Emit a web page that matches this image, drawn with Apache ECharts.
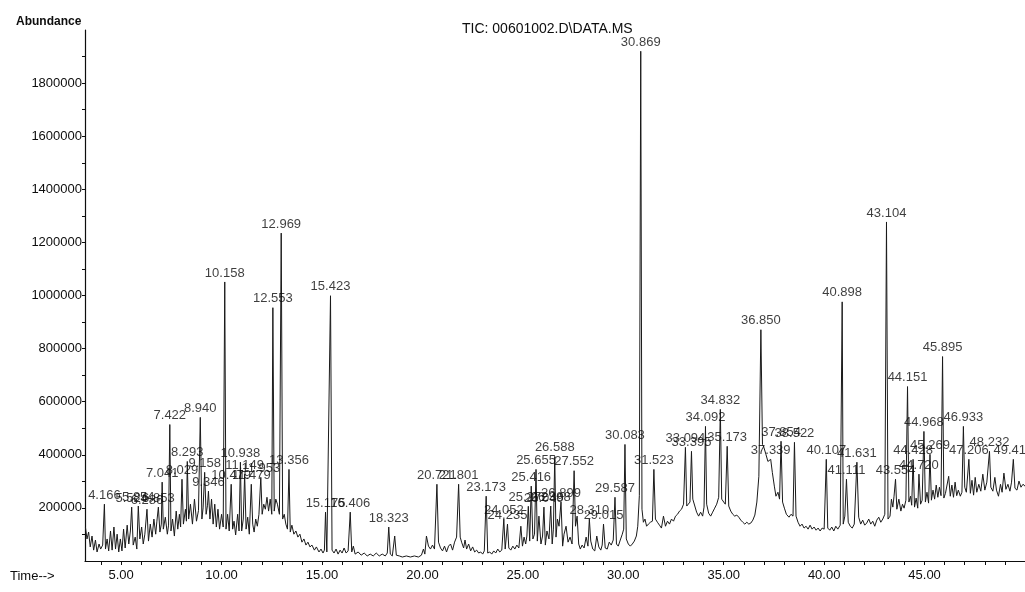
<!DOCTYPE html>
<html>
<head>
<meta charset="utf-8">
<script src="https://cdn.jsdelivr.net/npm/echarts@6/dist/echarts.min.js"></script>
<style>
  * { margin: 0; padding: 0; }
  body { background: #fff; }
  #chart { width: 1025px; height: 592px; }
</style>
</head>
<body>
<div id="chart"></div>
<script>
// TIC trace: [retention time (min), abundance]
const trace = [
  [3.22,128000],[3.3,83000],[3.38,109000],[3.46,53000],[3.55,94000],[3.63,41000],[3.72,79000],[3.8,34000],
  [3.9,64000],[3.98,45000],[4.08,60000],[4.166,214000],[4.22,45000],[4.3,83000],[4.38,38000],[4.47,113000],
  [4.55,41000],[4.64,128000],[4.72,45000],[4.8,101000],[4.88,34000],[4.96,83000],[5.04,38000],[5.12,120000],
  [5.2,49000],[5.3,135000],[5.38,64000],[5.46,113000],[5.524,203000],[5.6,60000],[5.7,90000],[5.78,45000],
  [5.854,207000],[5.93,83000],[6.02,128000],[6.1,64000],[6.18,101000],[6.286,195000],[6.36,75000],[6.45,139000],
  [6.54,90000],[6.63,158000],[6.72,101000],[6.78,150000],[6.853,203000],[6.93,109000],[7.0,139000],[7.041,297000],
  [7.1,120000],[7.2,165000],[7.3,101000],[7.36,135000],[7.422,514000],[7.48,113000],[7.56,158000],[7.65,94000],
  [7.74,188000],[7.82,120000],[7.9,176000],[7.96,128000],[8.029,308000],[8.1,139000],[8.2,195000],[8.25,150000],
  [8.293,375000],[8.36,158000],[8.45,214000],[8.55,139000],[8.65,233000],[8.75,150000],[8.85,190000],[8.94,541000],
  [9.02,158000],[9.08,200000],[9.158,334000],[9.23,176000],[9.3,210000],[9.346,263000],[9.42,158000],[9.5,233000],
  [9.58,139000],[9.66,214000],[9.74,128000],[9.82,195000],[9.9,120000],[10.0,176000],[10.08,128000],[10.158,1051000],
  [10.22,120000],[10.3,176000],[10.38,113000],[10.479,289000],[10.55,120000],[10.62,150000],[10.7,98000],[10.8,176000],
  [10.87,113000],[10.938,372000],[11.0,113000],[11.08,158000],[11.149,327000],[11.22,120000],[11.3,165000],[11.38,101000],
  [11.479,289000],[11.55,139000],[11.62,109000],[11.7,158000],[11.78,131000],[11.86,176000],[11.953,315000],[12.02,176000],
  [12.1,214000],[12.18,195000],[12.26,240000],[12.34,188000],[12.42,233000],[12.5,176000],[12.553,954000],[12.62,188000],
  [12.7,233000],[12.78,214000],[12.88,176000],[12.969,1235000],[13.04,158000],[13.12,176000],[13.2,139000],[13.28,120000],
  [13.356,345000],[13.42,109000],[13.5,135000],[13.6,101000],[13.7,113000],[13.8,90000],[13.9,101000],[14.0,71000],
  [14.1,83000],[14.2,60000],[14.3,71000],[14.4,53000],[14.5,60000],[14.62,41000],[14.72,53000],[14.85,34000],
  [14.95,45000],[15.05,30000],[15.12,41000],[15.175,184000],[15.24,34000],[15.32,38000],[15.423,999000],[15.5,41000],
  [15.6,30000],[15.7,45000],[15.8,26000],[15.9,41000],[16.0,30000],[16.1,49000],[16.2,30000],[16.3,38000],
  [16.406,184000],[16.48,34000],[16.56,56000],[16.65,26000],[16.8,34000],[16.95,22000],[17.1,30000],[17.25,19000],
  [17.4,26000],[17.55,19000],[17.7,30000],[17.85,19000],[18.0,26000],[18.15,19000],[18.25,30000],[18.323,128000],
  [18.4,26000],[18.5,19000],[18.62,94000],[18.7,22000],[18.85,19000],[19.0,15000],[19.2,19000],[19.4,15000],
  [19.6,19000],[19.8,15000],[19.95,22000],[20.05,45000],[20.12,26000],[20.2,94000],[20.3,56000],[20.4,45000],
  [20.5,60000],[20.6,45000],[20.721,289000],[20.8,71000],[20.9,49000],[21.0,38000],[21.1,56000],[21.2,34000],
  [21.3,56000],[21.4,64000],[21.5,41000],[21.6,71000],[21.7,90000],[21.801,289000],[21.88,90000],[21.95,71000],
  [22.05,49000],[22.12,79000],[22.2,45000],[22.3,64000],[22.4,38000],[22.5,53000],[22.6,34000],[22.7,41000],
  [22.8,30000],[22.9,34000],[23.0,26000],[23.08,38000],[23.173,244000],[23.25,30000],[23.35,34000],[23.45,26000],
  [23.55,38000],[23.65,30000],[23.75,45000],[23.85,34000],[23.95,41000],[24.052,158000],[24.12,45000],[24.18,38000],
  [24.235,139000],[24.3,49000],[24.4,41000],[24.5,56000],[24.6,45000],[24.7,60000],[24.8,49000],[24.9,131000],
  [24.98,56000],[25.06,90000],[25.14,64000],[25.2,94000],[25.272,206000],[25.34,75000],[25.416,282000],[25.5,83000],
  [25.58,101000],[25.655,345000],[25.72,75000],[25.8,169000],[25.9,64000],[25.98,94000],[26.049,203000],[26.12,60000],
  [26.2,113000],[26.3,83000],[26.388,207000],[26.46,64000],[26.52,120000],[26.588,394000],[26.65,90000],[26.72,158000],
  [26.8,131000],[26.899,222000],[26.98,56000],[27.05,101000],[27.15,131000],[27.25,71000],[27.35,90000],[27.45,64000],
  [27.552,340000],[27.62,131000],[27.7,169000],[27.78,64000],[27.86,45000],[27.95,60000],[28.05,49000],[28.15,90000],
  [28.24,56000],[28.31,158000],[28.38,75000],[28.48,45000],[28.58,38000],[28.68,94000],[28.78,53000],[28.88,41000],
  [28.95,60000],[29.015,139000],[29.1,49000],[29.2,45000],[29.3,71000],[29.4,60000],[29.5,79000],[29.587,240000],
  [29.66,64000],[29.75,56000],[29.85,79000],[29.95,101000],[30.02,120000],[30.083,439000],[30.15,83000],[30.25,64000],
  [30.35,56000],[30.45,64000],[30.55,75000],[30.65,94000],[30.72,131000],[30.8,246000],[30.869,1920000],[30.93,195000],
  [31.0,146000],[31.08,158000],[31.16,131000],[31.25,139000],[31.35,146000],[31.45,150000],[31.523,345000],[31.6,158000],
  [31.7,146000],[31.8,135000],[31.9,124000],[32.0,169000],[32.1,131000],[32.2,150000],[32.3,139000],[32.4,158000],
  [32.5,150000],[32.6,169000],[32.7,176000],[32.8,188000],[32.9,195000],[33.0,214000],[33.094,428000],[33.16,207000],
  [33.25,214000],[33.32,222000],[33.395,413000],[33.46,233000],[33.55,229000],[33.65,184000],[33.75,169000],[33.85,184000],
  [33.95,169000],[34.02,203000],[34.092,507000],[34.15,214000],[34.25,180000],[34.35,169000],[34.45,184000],[34.55,199000],
  [34.65,214000],[34.75,240000],[34.832,571000],[34.9,233000],[35.0,222000],[35.08,214000],[35.173,432000],[35.25,207000],
  [35.35,188000],[35.45,176000],[35.55,169000],[35.65,173000],[35.75,165000],[35.85,154000],[35.95,146000],[36.05,139000],
  [36.15,146000],[36.25,139000],[36.35,143000],[36.45,154000],[36.55,173000],[36.65,222000],[36.75,319000],[36.85,871000],
  [36.93,439000],[37.0,428000],[37.1,402000],[37.2,375000],[37.339,383000],[37.42,334000],[37.52,282000],[37.6,244000],
  [37.7,259000],[37.78,233000],[37.854,451000],[37.93,222000],[38.02,199000],[38.12,176000],[38.25,165000],[38.35,176000],
  [38.45,169000],[38.522,447000],[38.6,169000],[38.7,146000],[38.8,131000],[38.9,139000],[39.0,124000],[39.1,131000],
  [39.2,120000],[39.3,135000],[39.4,120000],[39.5,128000],[39.6,116000],[39.7,124000],[39.8,113000],[39.9,124000],
  [40.0,120000],[40.107,383000],[40.18,124000],[40.28,116000],[40.38,128000],[40.48,113000],[40.58,131000],[40.68,120000],
  [40.8,135000],[40.898,976000],[40.95,139000],[41.03,169000],[41.111,308000],[41.2,146000],[41.3,131000],[41.4,124000],
  [41.5,139000],[41.631,372000],[41.72,165000],[41.82,139000],[41.92,154000],[42.02,135000],[42.12,143000],[42.22,158000],
  [42.32,139000],[42.42,150000],[42.52,131000],[42.62,154000],[42.72,165000],[42.82,146000],[42.92,158000],[43.02,176000],
  [43.104,1277000],[43.18,158000],[43.28,169000],[43.35,233000],[43.42,203000],[43.48,244000],[43.554,308000],[43.62,195000],
  [43.72,233000],[43.82,188000],[43.9,214000],[43.98,199000],[44.07,229000],[44.151,657000],[44.22,222000],[44.3,244000],
  [44.36,210000],[44.428,383000],[44.5,203000],[44.58,237000],[44.66,199000],[44.72,327000],[44.8,214000],[44.88,229000],
  [44.968,488000],[45.04,222000],[45.12,259000],[45.2,218000],[45.269,402000],[45.34,229000],[45.42,267000],[45.5,233000],
  [45.58,286000],[45.66,240000],[45.74,278000],[45.82,246000],[45.895,770000],[45.96,237000],[46.04,255000],[46.12,248000],
  [46.2,319000],[46.28,244000],[46.36,286000],[46.44,240000],[46.52,297000],[46.6,246000],[46.68,267000],[46.78,244000],
  [46.86,259000],[46.933,507000],[47.0,278000],[47.08,259000],[47.206,383000],[47.28,255000],[47.36,304000],[47.44,248000],
  [47.52,315000],[47.6,259000],[47.7,289000],[47.8,263000],[47.9,327000],[48.0,267000],[48.1,297000],[48.232,413000],
  [48.3,278000],[48.4,263000],[48.5,315000],[48.58,267000],[48.68,244000],[48.78,289000],[48.86,259000],[48.95,331000],
  [49.05,270000],[49.15,289000],[49.25,263000],[49.33,297000],[49.419,383000],[49.5,274000],[49.6,267000],[49.7,301000],
  [49.8,278000],[49.9,289000],[50.0,282000]
];

// peaks that carry a retention-time label
const labeledPeaks = [
  4.166, 5.524, 5.854, 6.286, 6.853, 7.041, 7.422, 8.029, 8.293, 8.94, 9.158, 9.346,
  10.158, 10.479, 10.938, 11.149, 11.479, 11.953, 12.553, 12.969, 13.356, 15.175, 15.423, 16.406,
  18.323, 20.721, 21.801, 23.173, 24.052, 24.235, 25.272, 25.416, 25.655, 26.049, 26.388, 26.588,
  26.899, 27.552, 28.31, 29.015, 29.587, 30.083, 30.869, 31.523, 33.094, 33.395, 34.092, 34.832,
  35.173, 36.85, 37.339, 37.854, 38.522, 40.107, 40.898, 41.111, 41.631, 43.104, 43.554, 44.151,
  44.428, 44.72, 44.968, 45.269, 45.895, 46.933, 47.206, 48.232, 49.419
];

const timeTicks = [5, 10, 15, 20, 25, 30, 35, 40, 45];
const minorTimeTicks = [4, 5, 6, 7, 8, 9, 10, 11, 12, 13, 14, 15, 16, 17, 18, 19, 20, 21, 22, 23, 24, 25, 26,
  27, 28, 29, 30, 31, 32, 33, 34, 35, 36, 37, 38, 39, 40, 41, 42, 43, 44, 45, 46, 47, 48, 49];
const abundanceTicks = [200000, 400000, 600000, 800000, 1000000, 1200000, 1400000, 1600000, 1800000];
const abundanceMinor = [100000, 200000, 300000, 400000, 500000, 600000, 700000, 800000, 900000, 1000000,
  1100000, 1200000, 1300000, 1400000, 1500000, 1600000, 1700000, 1800000, 1900000];

const peakPoints = trace.filter(p => labeledPeaks.includes(p[0]));

const font = "'Liberation Sans', Arial, sans-serif";
const ink = "#0d0d0d";

const chart = echarts.init(document.getElementById("chart"), null, { renderer: "canvas" });

const option = {
  animation: false,
  backgroundColor: "#fff",
  textStyle: { fontFamily: font, color: ink },
  title: {
    text: "TIC: 00601002.D\\DATA.MS",
    left: 457,
    top: 17,
    textStyle: { fontFamily: font, fontSize: 14, fontWeight: "normal", color: ink },
  },
  graphic: [
    {
      type: "text",
      left: 16,
      top: 16,
      style: { text: "Abundance", font: "bold 12px " + font, fill: ink },
    },
    {
      type: "text",
      left: 10,
      top: 570,
      style: { text: "Time-->", font: "13px " + font, fill: ink },
    },
  ],
  grid: { left: 85, right: 0, top: 30, bottom: 31 },
  xAxis: {
    type: "value",
    min: 3.2,
    max: 50,
    axisLine: { lineStyle: { color: ink, width: 1.2 } },
    axisTick: { customValues: minorTimeTicks, length: 4, lineStyle: { color: ink } },
    axisLabel: {
      customValues: timeTicks,
      formatter: v => v.toFixed(2),
      fontSize: 13,
      color: ink,
      margin: 8,
    },
    splitLine: { show: false },
  },
  yAxis: {
    type: "value",
    min: 0,
    max: 2000000,
    axisLine: { show: true, lineStyle: { color: ink, width: 1.2 } },
    axisTick: { show: true, customValues: abundanceMinor, length: 3, lineStyle: { color: ink } },
    axisLabel: {
      customValues: abundanceTicks,
      formatter: v => String(v),
      fontSize: 13,
      color: ink,
      margin: 3,
    },
    splitLine: { show: false },
  },
  series: [
    {
      name: "TIC",
      type: "line",
      data: trace,
      symbol: "none",
      sampling: null,
      lineStyle: { color: "#1a1a1a", width: 1 },
      z: 2,
    },
    {
      name: "peaks",
      type: "scatter",
      data: peakPoints,
      symbolSize: 1,
      itemStyle: { color: "rgba(0,0,0,0)" },
      label: {
        show: true,
        position: "top",
        distance: 2,
        formatter: p => p.value[0].toFixed(3),
        fontFamily: font,
        fontSize: 13,
        color: ink,
      },
      z: 3,
    },
  ],
};

chart.setOption(option);
window.addEventListener("resize", chart.resize);
</script>
</body>
</html>
